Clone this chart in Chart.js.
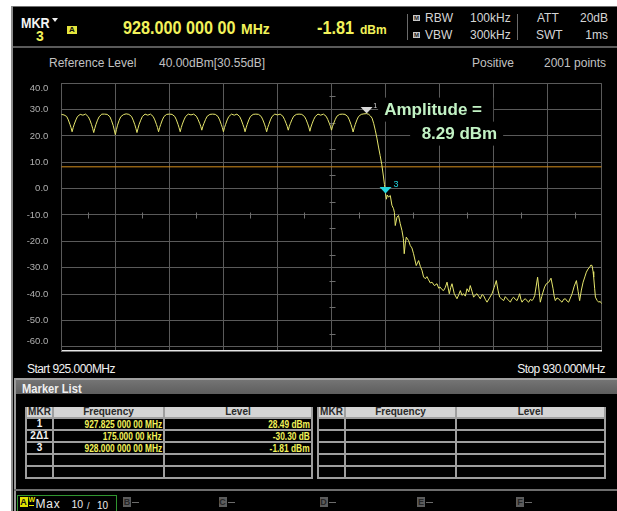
<!DOCTYPE html>
<html>
<head>
<meta charset="utf-8">
<title>Spectrum 925-930 MHz</title>
<script src="https://cdn.jsdelivr.net/npm/chart.js@4.4.1/dist/chart.umd.min.js"></script>
<style>
  html, body { margin: 0; padding: 0; }
  body { position: relative; width: 617px; height: 511px; overflow: hidden; background: #fff; font-family: "Liberation Sans", Arial, sans-serif; }
  .t { position: absolute; white-space: nowrap; line-height: 1; }
  .b { position: absolute; }
  .yel { color: #f2f25a; }
  .gry { color: #d6d6d6; font-size: 12px; }
  .sq { position: absolute; width: 8px; height: 10px; font: bold 9px/10px "Liberation Sans", Arial, sans-serif; text-align: center; background: #5c5c5c; color: #262626; }
  .dash { position: absolute; width: 7px; height: 1px; background: #6c6c6c; }
  .grid { position: absolute; display: grid; column-gap: 2px; row-gap: 2px; padding: 0 2px 2px 2px; background: #9e9e9e; grid-auto-rows: 10px; }
  .grid div { background: #000; font: bold 10px/10px "Liberation Sans", Arial, sans-serif; white-space: nowrap; overflow: hidden; }
  .grid .h { background: #d4d4d4; color: #2a2a2a; text-align: center; }
  .grid .c { color: #f2f2f2; text-align: center; }
  .grid .r { color: #f2f25a; text-align: right; padding-right: 1px; font-size: 11px; }
  .grid .r span { display: inline-block; transform: scaleX(0.76); transform-origin: right center; }
  .sx { display: inline-block; transform: scaleX(0.9); transform-origin: left center; }
  #chart { position: absolute; left: 0; top: 0; z-index: 2; }
</style>
</head>
<body>
<div class="b" style="left:11px;top:6px;width:606px;height:505px;background:#000;border-top:1px solid #707070;"></div>
<div class="b" style="left:11px;top:6px;width:2px;height:505px;background:#8c8c8c;"></div>

<!-- header -->
<div class="t" style="left:21px;top:14.5px;font:bold 14px 'Liberation Sans',Arial;color:#f4f4f4;"><span class="sx">MKR</span></div>
<div class="b" style="left:52px;top:18px;width:0;height:0;border-left:3px solid transparent;border-right:3px solid transparent;border-top:4px solid #eee;"></div>
<div class="t yel" style="left:36px;top:27.5px;font:bold 14px 'Liberation Sans',Arial;">3</div>
<div class="b" style="left:67px;top:26px;width:10px;height:8px;background:#e4e43c;color:#111;font:bold 8px/8px 'Liberation Sans',Arial;text-align:center;">A</div>
<div class="t yel" style="left:123px;top:17.8px;font:bold 18px 'Liberation Sans',Arial;"><span class="sx">928.000 000 00</span></div>
<div class="t yel" style="left:241px;top:21.2px;font:bold 14px 'Liberation Sans',Arial;">MHz</div>
<div class="t yel" style="left:317px;top:17.8px;font:bold 18px 'Liberation Sans',Arial;"><span class="sx">-1.81</span></div>
<div class="t yel" style="left:360px;top:22.8px;font:bold 12px 'Liberation Sans',Arial;">dBm</div>

<div class="b" style="left:407px;top:14px;width:1px;height:26px;background:#6a6a6a;"></div>
<div class="b" style="left:517px;top:14px;width:1px;height:26px;background:#6a6a6a;"></div>
<div class="b" style="left:413px;top:15px;width:7px;height:6px;background:#c8c8c8;color:#222;font:bold 6px/6px Arial;text-align:center;">M</div>
<div class="b" style="left:413px;top:32px;width:7px;height:6px;background:#c8c8c8;color:#222;font:bold 6px/6px Arial;text-align:center;">M</div>
<div class="t gry" style="left:425px;top:12px;">RBW</div>
<div class="t gry" style="left:470px;top:12px;">100kHz</div>
<div class="t gry" style="left:537px;top:12px;">ATT</div>
<div class="t gry" style="right:9px;top:12px;">20dB</div>
<div class="t gry" style="left:425px;top:28.5px;">VBW</div>
<div class="t gry" style="left:470px;top:28.5px;">300kHz</div>
<div class="t gry" style="left:536px;top:28.5px;">SWT</div>
<div class="t gry" style="right:9px;top:28.5px;">1ms</div>
<div class="b" style="left:13px;top:46px;width:604px;height:2px;background:#5a5a5a;"></div>

<div class="t" style="left:49px;top:57px;font-size:12px;color:#c2c2c2;">Reference Level</div>
<div class="t" style="left:159px;top:57px;font-size:12px;color:#c2c2c2;">40.00dBm[30.55dB]</div>
<div class="t" style="left:472px;top:57px;font-size:12px;color:#c2c2c2;">Positive</div>
<div class="t" style="left:544px;top:57px;font-size:12px;color:#c2c2c2;">2001 points</div>

<!-- below plot -->
<div class="t" style="left:27px;top:362.5px;font-size:12px;letter-spacing:-0.55px;color:#f2f2f2;">Start 925.000MHz</div>
<div class="t" style="right:12px;top:362.5px;font-size:12px;letter-spacing:-0.55px;color:#f2f2f2;">Stop 930.000MHz</div>

<div class="b" style="left:14px;top:378px;width:603px;height:16px;background:linear-gradient(#a0a0a0 0,#a0a0a0 2px,#747474 2px,#5e5e5e 100%);"></div>
<div class="t" style="left:21.5px;top:381px;font:bold 13px 'Liberation Sans',Arial;color:#f0f0f0;"><span class="sx" style="transform:scaleX(0.86)">Marker List</span></div>
<div class="b" style="left:14px;top:378px;width:2px;height:133px;background:#9a9a9a;"></div>

<div id="tbl1" class="grid" style="left:25px;top:407px;grid-template-columns:25px 109px 146px;"></div>
<div id="tbl2" class="grid" style="left:317px;top:407px;grid-template-columns:25px 109px 147px;"></div>

<div class="b" style="left:14px;top:489px;width:603px;height:2px;background:#6e6e6e;"></div>

<!-- trace bar -->
<div class="b" style="left:16.5px;top:495px;width:98px;height:18px;border:1.5px solid #2f952f;"></div>
<div class="b" style="left:19.5px;top:497px;width:8px;height:10px;background:#e2e200;color:#111;font:bold 9px/10px 'Liberation Sans',Arial;text-align:center;">A</div>
<div class="t" style="left:28.5px;top:496px;font:bold 7px 'Liberation Sans',Arial;color:#e8e800;">W</div>
<div class="b" style="left:29px;top:504.5px;width:5px;height:1.5px;background:#e8e800;"></div>
<div class="t" style="left:35.5px;top:497.5px;font-size:12px;letter-spacing:0.8px;color:#ececec;">Max</div>
<div class="t" style="left:71.5px;top:498.5px;font-size:10.5px;color:#ececec;">10</div>
<div class="t" style="left:87px;top:502px;font-size:9px;color:#ececec;">/</div>
<div class="t" style="left:97px;top:501px;font-size:10px;color:#ececec;">10</div>

<div class="sq" style="left:123px;top:497px;">B</div><div class="dash" style="left:132px;top:502px;"></div>
<div class="sq" style="left:218.5px;top:497px;">C</div><div class="dash" style="left:227.5px;top:502px;"></div>
<div class="sq" style="left:319.5px;top:497px;">D</div><div class="dash" style="left:328.5px;top:502px;"></div>
<div class="sq" style="left:417px;top:497px;">E</div><div class="dash" style="left:426px;top:502px;"></div>
<div class="sq" style="left:516px;top:497px;">F</div><div class="dash" style="left:525px;top:502px;"></div>

<canvas id="chart" width="617" height="511"></canvas>

<script>
// trace A: ripple passband, roll-off, noise floor
var rippleMHz = [
  925.000, 925.025,
  925.050, 925.065, 925.080, 925.090, 925.100, 925.110, 925.120, 925.135, 925.150, 925.175, 925.200, 925.225,
  925.250, 925.265, 925.280, 925.290, 925.300, 925.310, 925.320, 925.335, 925.350, 925.375, 925.400, 925.425,
  925.450, 925.465, 925.480, 925.490, 925.500, 925.510, 925.520, 925.535, 925.550, 925.575, 925.600, 925.625,
  925.650, 925.665, 925.680, 925.690, 925.700, 925.710, 925.720, 925.735, 925.750, 925.775, 925.800, 925.825,
  925.850, 925.865, 925.880, 925.890, 925.900, 925.910, 925.920, 925.935, 925.950, 925.975, 926.000, 926.025,
  926.050, 926.065, 926.080, 926.090, 926.100, 926.110, 926.120, 926.135, 926.150, 926.175, 926.200, 926.225,
  926.250, 926.265, 926.280, 926.290, 926.300, 926.310, 926.320, 926.335, 926.350, 926.375, 926.400, 926.425,
  926.450, 926.465, 926.480, 926.490, 926.500, 926.510, 926.520, 926.535, 926.550, 926.575, 926.600, 926.625,
  926.650, 926.665, 926.680, 926.690, 926.700, 926.710, 926.720, 926.735, 926.750, 926.775, 926.800, 926.825,
  926.850, 926.865, 926.880, 926.890, 926.900, 926.910, 926.920, 926.935, 926.950, 926.975, 927.000, 927.025,
  927.050, 927.065, 927.080, 927.090, 927.100, 927.110, 927.120, 927.135, 927.150, 927.175, 927.200, 927.225,
  927.250, 927.265, 927.280, 927.290, 927.300, 927.310, 927.320, 927.335, 927.350, 927.375, 927.400, 927.425,
  927.450, 927.465, 927.480, 927.490, 927.500, 927.510, 927.520, 927.535, 927.550, 927.575, 927.600, 927.625,
  927.650, 927.665, 927.680, 927.690, 927.700, 927.710, 927.720, 927.735, 927.750, 927.775, 927.800
];
var rippleDbm = [
  28.2, 28.0,
  27.4, 26.1, 24.4, 23.2, 21.6, 23.2, 24.5, 26.1, 27.4, 28.2, 27.9, 28.3,
  27.3, 26.0, 24.3, 22.9, 21.3, 22.9, 24.3, 26.0, 27.3, 28.3, 28.3, 28.2,
  27.3, 25.8, 24.0, 22.3, 20.5, 22.4, 24.1, 25.9, 27.3, 28.1, 28.4, 28.2,
  27.4, 26.0, 24.3, 22.9, 21.3, 22.9, 24.4, 26.0, 27.4, 28.3, 27.9, 28.3,
  27.4, 26.1, 24.4, 23.2, 21.6, 23.2, 24.4, 26.1, 27.4, 28.2, 28.3, 28.2,
  27.4, 26.1, 24.4, 23.1, 21.6, 23.2, 24.5, 26.1, 27.4, 28.3, 28.0, 28.3,
  27.5, 26.3, 24.8, 23.7, 22.2, 23.7, 24.8, 26.3, 27.5, 28.2, 28.3, 28.2,
  27.4, 26.1, 24.4, 23.2, 21.6, 23.2, 24.4, 26.1, 27.4, 28.3, 27.9, 28.3,
  27.4, 26.1, 24.4, 23.2, 21.6, 23.1, 24.4, 26.1, 27.4, 28.2, 28.3, 28.2,
  27.4, 26.1, 24.5, 23.2, 21.6, 23.2, 24.4, 26.1, 27.4, 28.3, 28.0, 28.3,
  27.5, 26.3, 24.8, 23.7, 22.2, 23.7, 24.8, 26.3, 27.5, 28.2, 28.3, 28.2,
  27.4, 26.2, 24.6, 23.4, 21.8, 23.4, 24.6, 26.2, 27.4, 28.3, 27.9, 28.3,
  27.5, 26.3, 24.8, 23.7, 22.2, 23.7, 24.8, 26.3, 27.5, 28.2, 28.3, 28.2,
  27.4, 26.1, 24.4, 23.1, 21.5, 23.1, 24.4, 26.1, 27.4, 28.2, 28.4
];
var rolloffMHz = [927.825, 927.845, 927.860, 927.875, 927.890, 927.905, 927.920, 927.935, 927.950, 927.965,
  927.980, 927.990, 928.000, 928.008, 928.016, 928.028, 928.044, 928.059, 928.074, 928.082];
var rolloffDbm = [28.49, 28.2, 27.6, 26.8, 24.8, 22.2, 19.2, 15.8, 12.6, 9.2,
  4.8, 1.6, -1.81, -4.0, -2.4, -3.2, -2.6, -6.3, -7.6, -9.0];
var floorMHz = [
  928.090, 928.106, 928.120, 928.136, 928.152, 928.165, 928.173, 928.182, 928.192, 928.213,
  928.229, 928.244, 928.259, 928.284, 928.306, 928.322, 928.337, 928.352, 928.368, 928.383,
  928.398, 928.414, 928.430, 928.452, 928.476, 928.492, 928.506, 928.522, 928.537, 928.552,
  928.569, 928.590, 928.603, 928.615, 928.636, 928.661, 928.677, 928.692, 928.707, 928.722,
  928.738, 928.754, 928.770, 928.784, 928.800, 928.815, 928.830, 928.846, 928.862, 928.877,
  928.893, 928.907, 928.923, 928.939, 928.962, 928.985, 929.005, 929.025, 929.040, 929.056,
  929.075, 929.093, 929.108, 929.124, 929.140, 929.155, 929.170, 929.185, 929.200, 929.217,
  929.229, 929.241, 929.252, 929.263, 929.278, 929.294, 929.310, 929.324, 929.340, 929.356,
  929.368, 929.380, 929.394, 929.407, 929.420, 929.432, 929.445, 929.457, 929.472, 929.488,
  929.510, 929.531, 929.550, 929.560, 929.571, 929.586, 929.602, 929.618, 929.633, 929.648,
  929.664, 929.680, 929.694, 929.710, 929.726, 929.746, 929.766, 929.782, 929.796, 929.812,
  929.828, 929.844, 929.858, 929.874, 929.889, 929.900, 929.911, 929.920, 929.926, 929.935,
  929.942, 929.957, 929.972, 929.986, 930.000
];
var floorDbm = [
  -14.0, -10.8, -10.2, -13.3, -15.9, -19.0, -24.7, -21.0, -18.4, -19.7,
  -21.6, -22.5, -24.7, -29.2, -27.3, -29.5, -31.0, -33.5, -34.2, -33.4,
  -34.6, -35.8, -35.5, -36.8, -36.1, -37.8, -37.4, -38.3, -38.7, -37.6,
  -35.5, -39.9, -37.5, -36.1, -39.9, -41.8, -40.3, -38.7, -40.5, -39.9,
  -40.8, -38.0, -39.2, -36.8, -39.0, -41.2, -40.4, -39.9, -40.9, -41.8,
  -40.2, -40.6, -42.0, -43.1, -41.5, -39.9, -37.5, -34.9, -38.5, -41.2,
  -41.9, -42.5, -41.0, -41.8, -42.4, -43.1, -41.8, -41.2, -42.0, -42.5,
  -41.3, -39.9, -42.0, -43.1, -42.2, -41.8, -42.6, -43.1, -42.0, -42.5,
  -41.8, -40.6, -37.0, -33.6, -38.5, -43.1, -41.0, -39.3, -37.3, -36.1,
  -35.5, -34.0, -38.0, -40.8, -42.5, -41.5, -41.8, -42.6, -43.1, -42.0,
  -41.8, -42.7, -43.1, -41.5, -39.9, -37.0, -34.9, -39.0, -42.5, -38.5,
  -35.5, -33.5, -31.7, -30.5, -29.8, -29.0, -29.2, -31.5, -33.6, -38.0,
  -41.2, -42.4, -43.1, -42.8, -43.7
];

// markers on the trace (1 and 3) and the display line
var markerNames = ['1', '3'];
var markerMHz = [927.825, 928.000];
var markerDbm = [28.49, -1.81];
var markerColors = ['#d8d8d8', '#22d4de'];
var displayLineDbm = 8.29;

// marker list table
var listMkr = ['1', '2\u03941', '3'];
var listFreq = ['927.825 000 00 MHz', '175.000 00 kHz', '928.000 000 00 MHz'];
var listLevel = ['28.49 dBm', '-30.30 dB', '-1.81 dBm'];

// axes
var spanStartMHz = 925, spanStopMHz = 930, divMHz = 0.5;
var refLevelDbm = 40, bottomDbm = -61.5, divDb = 10;

function fillTable(id, mkr, freq, level) {
  var html = '<div class="h">MKR</div><div class="h">Frequency</div><div class="h">Level</div>';
  for (var i = 0; i < 5; i++) {
    html += '<div class="c">' + (mkr[i] || '') + '</div>';
    html += '<div class="r"><span>' + (freq[i] || '') + '</span></div>';
    html += '<div class="r"><span>' + (level[i] || '') + '</span></div>';
  }
  document.getElementById(id).innerHTML = html;
}
fillTable('tbl1', listMkr, listFreq, listLevel);
fillTable('tbl2', [], [], []);

function toPoints(xs, ys) {
  return xs.map(function(x, i) { return { x: x, y: ys[i] }; });
}
var trace = toPoints(rippleMHz, rippleDbm).concat(toPoints(rolloffMHz, rolloffDbm), toPoints(floorMHz, floorDbm));

var screenMarks = {
  id: 'screenMarks',
  beforeDatasetsDraw: function(chart) {
    var ctx = chart.ctx, xs = chart.scales.x, ys = chart.scales.y, area = chart.chartArea;
    var xt = xs.ticks.map(function(t) { return t.value; });
    var yt = ys.ticks.map(function(t) { return t.value; });
    var xc = Math.round(xs.getPixelForValue((xt[0] + xt[xt.length - 1]) / 2)) + 0.5;
    var yc = Math.round(ys.getPixelForValue((yt[0] + yt[yt.length - 1]) / 2)) + 0.5;
    ctx.save();
    // minor ticks on the centre cross
    ctx.strokeStyle = '#6e6e6e'; ctx.lineWidth = 1;
    ctx.beginPath();
    for (var i = 0; i < xt.length - 1; i++) {
      var px = Math.round(xs.getPixelForValue((xt[i] + xt[i + 1]) / 2)) + 0.5;
      ctx.moveTo(px, yc - 3); ctx.lineTo(px, yc + 3);
    }
    for (var j = 0; j < yt.length - 1; j++) {
      var py = Math.round(ys.getPixelForValue((yt[j] + yt[j + 1]) / 2)) + 0.5;
      ctx.moveTo(xc - 3, py); ctx.lineTo(xc + 3, py);
    }
    ctx.stroke();
    // y labels, end ones pulled inside
    ctx.fillStyle = '#b0b0b0';
    ctx.font = '9.5px "Liberation Sans", Arial, sans-serif';
    ctx.textAlign = 'right'; ctx.textBaseline = 'middle';
    var lo = ys.getPixelForValue(yt[0]) - 5.5, hi = area.top + 5;
    yt.forEach(function(v) {
      var p = Math.min(Math.max(ys.getPixelForValue(v), hi), lo);
      ctx.fillText(v.toFixed(1), area.left - 13, p);
    });
    ctx.restore();
  },
  afterDatasetsDraw: function(chart) {
    var ctx = chart.ctx, xs = chart.scales.x, ys = chart.scales.y;
    ctx.save();
    var m1x = 0, m1y = 0;
    markerNames.forEach(function(name, i) {
      var x = xs.getPixelForValue(markerMHz[i]), y = ys.getPixelForValue(markerDbm[i]);
      if (i === 0) { m1x = x; m1y = y; }
      ctx.fillStyle = markerColors[i];
      ctx.beginPath();
      ctx.moveTo(x, y); ctx.lineTo(x - 6, y - 6.5); ctx.lineTo(x + 6, y - 6.5); ctx.closePath();
      ctx.fill();
      ctx.font = (i === 0 ? '7px' : '9px') + ' "Liberation Sans", Arial, sans-serif';
      ctx.textAlign = 'left'; ctx.textBaseline = 'alphabetic';
      ctx.fillText(name, x + (i === 0 ? 6.5 : 8), y - 6);
    });
    // display line readout
    ctx.fillStyle = '#000';
    ctx.fillRect(m1x + 11.5, m1y - 16, 115, 24);
    ctx.fillRect(m1x + 43.5, m1y + 8, 93, 24);
    ctx.fillStyle = '#c2f2c4';
    ctx.font = 'bold 17px "Liberation Sans", Arial, sans-serif';
    ctx.textAlign = 'left'; ctx.textBaseline = 'alphabetic';
    ctx.fillText('Amplitude =', m1x + 17.6, m1y + 1.7);
    ctx.fillText(displayLineDbm.toFixed(2) + ' dBm', m1x + 55, m1y + 25.7);
    ctx.restore();
  }
};

new Chart(document.getElementById('chart'), {
  type: 'line',
  data: {
    datasets: [
      { data: trace, borderColor: '#e6e66c', borderWidth: 1, pointRadius: 0, tension: 0, order: 1 },
      { data: [{ x: spanStartMHz, y: displayLineDbm }, { x: spanStopMHz, y: displayLineDbm }],
        borderColor: '#d48e1c', borderWidth: 1, pointRadius: 0, order: 2 }
    ]
  },
  options: {
    responsive: false, animation: false, events: [],
    layout: { padding: { left: 61.3, top: 83.3, right: 15.3, bottom: 160.35 } },
    plugins: { legend: { display: false }, tooltip: { enabled: false } },
    scales: {
      x: { type: 'linear', min: spanStartMHz, max: spanStopMHz,
           ticks: { display: false, stepSize: divMHz },
           grid: { color: '#5a5a5a', drawTicks: false },
           border: { color: '#e6e6e6', width: 1.5 } },
      y: { type: 'linear', min: bottomDbm, max: refLevelDbm,
           ticks: { display: false, stepSize: divDb, includeBounds: false },
           grid: { color: '#5a5a5a', drawTicks: false },
           border: { color: '#5a5a5a', width: 1 } }
    }
  },
  plugins: [screenMarks]
});
</script>
</body>
</html>
